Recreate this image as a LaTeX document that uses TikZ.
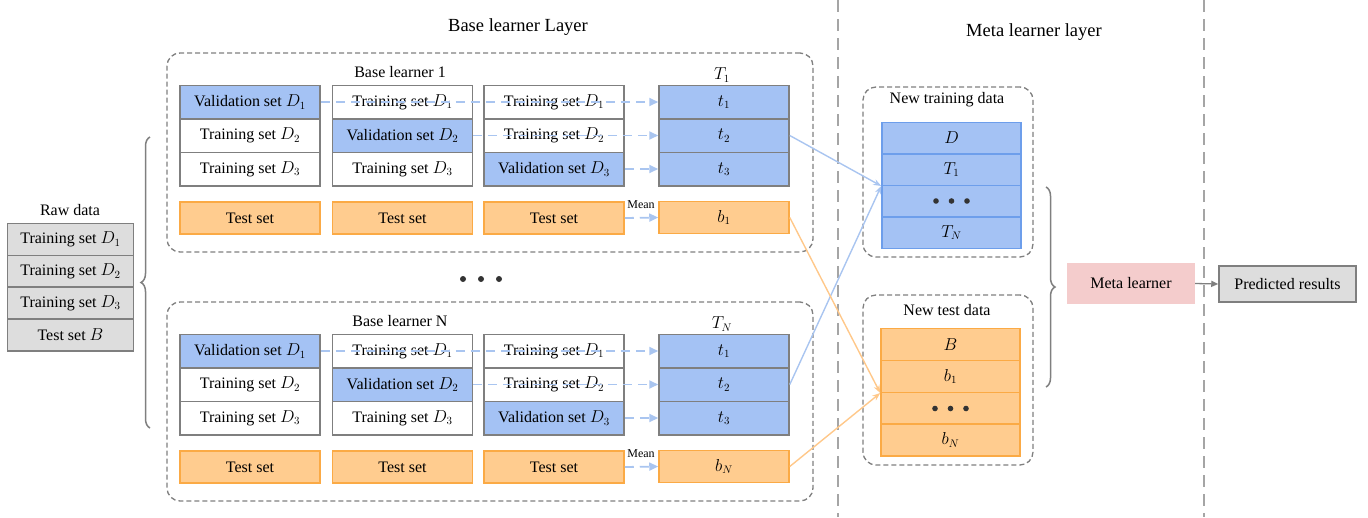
\documentclass[tikz,border=0pt]{standalone}
\usepackage{fontspec}
\setmainfont{Liberation Serif}
\usetikzlibrary{arrows.meta,decorations.pathreplacing}
\definecolor{bfill}{HTML}{A4C2F4}
\definecolor{bline}{HTML}{6D9EEB}
\definecolor{ofill}{HTML}{FFCC8F}
\definecolor{oline}{HTML}{FBAA45}
\definecolor{gline}{HTML}{7F7F7F}
\definecolor{gfill}{HTML}{DDDDDD}
\definecolor{pfill}{HTML}{F4CCCC}
\definecolor{aline}{HTML}{A9C5F0}
\definecolor{oarr}{HTML}{FFC88A}
\tikzset{
  txt/.style={font=\fontsize{16}{19}\selectfont},
  cell/.style={txt, draw=gline, line width=1.5pt, inner sep=0pt, minimum width=140pt, minimum height=33.5pt},
  wcell/.style={cell, fill=white},
  vcell/.style={cell, fill=bfill},
  tcell/.style={cell, fill=ofill, draw=oline, minimum height=32pt},
  grp/.style={draw=gline, line width=1.3pt, dash pattern=on 5pt off 3pt, rounded corners=13pt, inner sep=0pt},
  dasharrow/.style={draw=aline, line width=1.8pt, dash pattern=on 9pt off 6pt, -{Triangle[length=9pt,width=8pt]}},
  bluearrow/.style={draw=aline, line width=1.4pt, -{Stealth[length=8pt,width=6pt]}},
  orangearrow/.style={draw=oarr, line width=1.4pt, -{Stealth[length=8pt,width=6pt]}},
  ncell/.style={txt, draw=bline, fill=bfill, line width=1.5pt, inner sep=0pt, minimum width=139pt, minimum height=31.5pt},
  ocell/.style={txt, draw=oline, fill=ofill, line width=1.5pt, inner sep=0pt, minimum width=139pt, minimum height=31.6pt},
  rcell/.style={txt, draw=gline, fill=gfill, line width=1.5pt, inner sep=0pt, minimum width=126pt, minimum height=32pt},
  sep/.style={draw=gline!70, line width=1.5pt, dash pattern=on 12pt off 7pt},
  brc/.style={draw=gline, line width=1.5pt, decorate, decoration={brace, amplitude=9pt}},
}
\newcommand\learnerblock[5]{%
  \node[grp, minimum width=646pt, minimum height=199pt] (#1grp) at (490,#2+152.5) {};
  \node[txt] (#1title) at (400,#2+72) {#3};
  \node[txt] (#1tl) at (722,#2+75) {#4};
  % column 1
  \node[vcell] (#1a1) at (250,#2+102) {Validation set $D_1$};
  \node[wcell] (#1a2) at (250,#2+135.5) {Training set $D_2$};
  \node[wcell] (#1a3) at (250,#2+169) {Training set $D_3$};
  % column 2
  \node[wcell] (#1b1) at (402.5,#2+102) {Training set $D_1$};
  \node[vcell] (#1b2) at (402.5,#2+135.5) {Validation set $D_2$};
  \node[wcell] (#1b3) at (402.5,#2+169) {Training set $D_3$};
  % column 3
  \node[wcell] (#1c1) at (554,#2+102) {Training set $D_1$};
  \node[wcell] (#1c2) at (554,#2+135.5) {Training set $D_2$};
  \node[vcell] (#1c3) at (554,#2+169) {Validation set $D_3$};
  % T column
  \node[vcell, minimum width=130pt] (#1t1) at (724,#2+102) {$t_1$};
  \node[vcell, minimum width=130pt] (#1t2) at (724,#2+135.5) {$t_2$};
  \node[vcell, minimum width=130pt] (#1t3) at (724,#2+169) {$t_3$};
  % test row
  \node[tcell] (#1s1) at (250,#2+218) {Test set};
  \node[tcell] (#1s2) at (402.5,#2+218) {Test set};
  \node[tcell] (#1s3) at (554,#2+218) {Test set};
  \node[tcell, minimum width=130pt] (#1b) at (724,#2+217.5) {#5};
  \node[font=\fontsize{12}{14}\selectfont] (#1mean) at (641,#2+205) {Mean};
  \draw[dasharrow] (#1a1.east) -- (#1t1.west);
  \draw[dasharrow] (#1b2.east) -- (#1t2.west);
  \draw[dasharrow] (#1c3.east) -- (#1t3.west);
  \draw[dasharrow] (#1s3.east) -- (#1b.west);
}
\begin{document}
\begin{tikzpicture}[x=1pt,y=-1pt]
\useasboundingbox (0,0) rectangle (1368,517);
% separators
\coordinate (s1t) at (838,0); \coordinate (s1b) at (838,517);
\coordinate (s2t) at (1204,0); \coordinate (s2b) at (1204,517);
\draw[sep] (s1t) -- (s1b);
\draw[sep] (s2t) -- (s2b);
% titles
\node[font=\fontsize{18.5}{22}\selectfont] (bltitle) at (518,27) {Base learner Layer};
\node[font=\fontsize{18.5}{22}\selectfont] (mltitle) at (1034,32) {Meta learner layer};
% raw data
\node[txt] (rawlbl) at (70,210) {Raw data};
\node[rcell] (r1) at (70.5,239.5) {Training set $D_1$};
\node[rcell] (r2) at (70.5,271.5) {Training set $D_2$};
\node[rcell] (r3) at (70.5,303) {Training set $D_3$};
\node[rcell] (r4) at (70.5,335) {Test set $B$};
% left brace
\coordinate (lbB) at (150,428); \coordinate (lbT) at (150,137);
\draw[brc] (lbB) -- (lbT);
% learner blocks
\learnerblock{u}{0}{Base learner 1}{$T_1$}{$b_1$}
\learnerblock{w}{249}{Base learner N}{$T_N$}{$b_N$}
% dots
\fill[black!80] (463,279) circle (3pt) (481,279) circle (3pt) (499,279) circle (3pt);
% new training data
\node[grp, minimum width=170pt, minimum height=170pt] (ntg) at (948,172) {};
\node[txt] (ntl) at (947,100) {New training data};
\node[ncell] (nD) at (951.5,138) {$D$};
\node[ncell] (nT1) at (951.5,169.5) {$T_1$};
\node[ncell] (ndots) at (951.5,201) {};
\node[ncell] (nTN) at (951.5,232.5) {$T_N$};
\fill[black!80] (936,201) circle (2.8pt) (951.5,201) circle (2.8pt) (967,201) circle (2.8pt);
% new test data
\node[grp, minimum width=170pt, minimum height=170pt] (nsg) at (948,380) {};
\node[txt] (nsl) at (947,310) {New test data};
\node[ocell] (nB) at (950.5,344.5) {$B$};
\node[ocell] (nb1) at (950.5,376.5) {$b_1$};
\node[ocell] (nsdots) at (950.5,408.5) {};
\node[ocell] (nbN) at (950.5,440) {$b_N$};
\fill[black!80] (935,408.5) circle (2.8pt) (950.5,408.5) circle (2.8pt) (966,408.5) circle (2.8pt);
% connectors to meta layer
\draw[bluearrow] (ut2.east) -- (nT1.south west);
\draw[bluearrow] (wt2.east) -- (nT1.south west);
\draw[orangearrow] (ub.east) -- (nb1.south west);
\draw[orangearrow] (wb.east) -- (nb1.south west);
% right brace
\coordinate (rbT) at (1046,187); \coordinate (rbB) at (1046,387);
\draw[brc] (rbT) -- (rbB);
% meta learner
\node[txt, fill=pfill, inner sep=0pt, minimum width=128pt, minimum height=41pt] (meta) at (1131,283.5) {Meta learner};
\node[txt, draw=gline, fill=gfill, line width=1.5pt, inner sep=0pt, minimum width=137pt, minimum height=36pt] (pred) at (1287.5,284) {Predicted results};
\draw[draw=gline, line width=1.3pt, -{Triangle[length=7pt,width=6pt]}] (meta.east) -- (pred.west);
\end{tikzpicture}
\end{document}
